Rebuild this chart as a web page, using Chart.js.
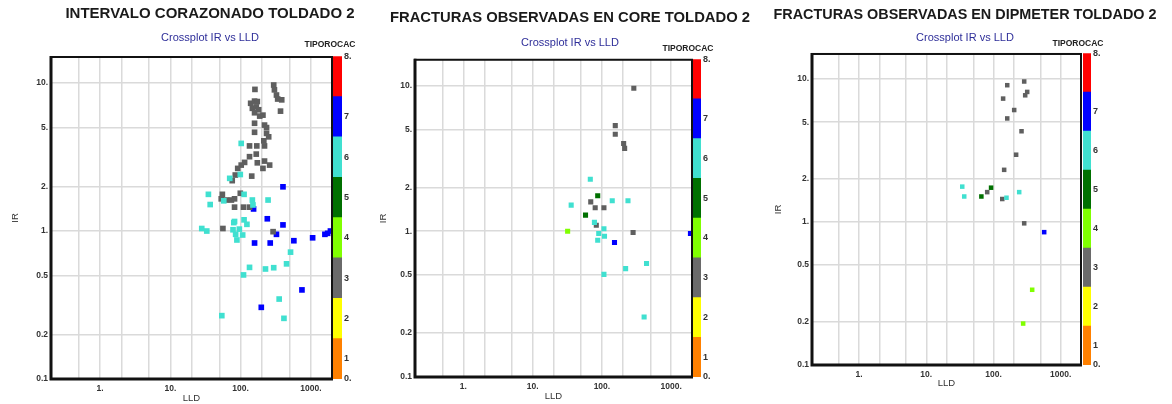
<!DOCTYPE html>
<html><head><meta charset="utf-8">
<script src="https://cdn.jsdelivr.net/npm/chart.js@4.4.1/dist/chart.umd.min.js"></script>
<style>
html,body{margin:0;padding:0;background:#fff;}
#wrap{position:relative;width:1172px;height:404px;overflow:hidden;background:#fff;}
canvas{position:absolute;top:0;}
</style></head><body><div id="wrap">
<canvas id="m1" width="420" height="404" style="left:0px"></canvas>
<canvas id="m2" width="390" height="404" style="left:375px"></canvas>
<canvas id="m3" width="400" height="404" style="left:765px"></canvas>
<canvas id="c1" width="80" height="404" style="left:290px"></canvas>
<canvas id="c2" width="80" height="404" style="left:648px"></canvas>
<canvas id="c3" width="80" height="404" style="left:1038px"></canvas>
</div>
<script>
// ---------- tick labels ----------
const xTickValues = [0.5, 1, 2, 5, 10, 20, 50, 100, 200, 500, 1000];
const xTickLabels = ['', '1.', '', '', '10.', '', '', '100.', '', '', '1000.'];
const yTickValues = [0.1, 0.2, 0.5, 1, 2, 5, 10];
const yTickLabels = ['0.1', '0.2', '0.5', '1.', '2.', '5.', '10.'];

// ---------- colour bar (TIPOROCAC) ----------
const rockTypes = [1, 2, 3, 4, 5, 6, 7, 8];
const rockSpan = [1, 1, 1, 1, 1, 1, 1, 1];
const barTickValues = [0, 0.5, 1.5, 2.5, 3.5, 4.5, 5.5, 6.5, 8];
const barTickLabels = ['0.', '1', '2', '3', '4', '5', '6', '7', '8.'];

// ---------- panel titles ----------
const panelTitles = ['INTERVALO CORAZONADO TOLDADO 2', 'FRACTURAS OBSERVADAS EN CORE TOLDADO 2', 'FRACTURAS OBSERVADAS EN DIPMETER TOLDADO 2'];

// ---------- data [LLD, IR] by TIPOROCAC ----------
// Panel 1: Intervalo corazonado
const p1Type3 = [[296,9.7],[303,9.0],[324,8.3],[337,7.8],[385,7.7],[370,6.46],[160,9.06],[139,7.3],[158,7.55],[173,7.5],[147,6.75],[167,6.9],[181,6.6],[158,6.3],[208,6.07],[187,5.98],[158,5.35],[219,5.2],[234,5.0],[158,4.65],[234,4.57],[251,4.33],[214,4.07],[219,3.76],[134,3.76],[170,3.76],[167,3.31],[134,3.18],[114,2.91],[102,2.79],[173,2.89],[219,2.97],[259,2.79],[208,2.65],[91,2.65],[84,2.39],[144,2.35],[76,2.19],[55,1.77],[53,1.65],[63,1.62],[74,1.62],[82,1.65],[99,1.80],[82,1.45],[110,1.45],[134,1.45],[56,1.04],[290,0.99]];
const p1Type6 = [[102,3.91],[70,2.27],[99,2.41],[34.8,1.77],[36.9,1.51],[57.6,1.6],[112,1.77],[147,1.62],[150,1.50],[246,1.62],[80,1.14],[112,1.19],[123,1.11],[82,1.16],[78,1.02],[96,1.03],[85,0.95],[107,0.94],[88.6,0.87],[28,1.04],[33,1.0],[514,0.72],[110,0.505],[134,0.568],[226,0.554],[296,0.565],[451,0.6],[354,0.347],[414,0.257],[54,0.268]];
const p1Type7 = [[401,1.99],[153,1.41],[240,1.21],[401,1.10],[324,0.95],[158,0.83],[264,0.83],[573,0.86],[1060,0.90],[1585,0.95],[1735,0.965],[1900,1.0],[197,0.305],[747,0.40]];
// Panel 2: Fracturas observadas en core
const p2Type3 = [[289,9.57],[156,5.3],[156,4.62],[206,4.0],[213,3.7],[69,1.59],[80,1.45],[107,1.45],[83,1.10],[282,0.98]];
const p2Type4 = [[32,1.0]];
const p2Type5 = [[87,1.75],[58,1.29]];
const p2Type6 = [[68,2.27],[36,1.51],[141,1.62],[238,1.62],[78,1.15],[107,1.04],[90,0.964],[109,0.924],[87,0.867],[107,0.506],[220,0.554],[441,0.6],[407,0.258]];
const p2Type7 = [[152,0.836],[1900,0.964]];
// Panel 3: Fracturas observadas en dipmeter
const p3Type3 = [[286,9.63],[160,9.07],[317,8.14],[296,7.71],[139,7.31],[203,6.08],[160,5.31],[261,4.32],[217,2.96],[144,2.32],[80.6,1.62],[135,1.45],[286,0.98]];
const p3Type4 = [[376,0.336],[276,0.195]];
const p3Type5 = [[92,1.74],[66,1.51]];
const p3Type6 = [[34.3,1.77],[36.7,1.51],[156,1.48],[241,1.62]];
const p3Type7 = [[567,0.85]];

// ---------- styles ----------
const rockColors = ['#ff8000', '#ffff00', '#6a6a6a', '#80ff00', '#007000', '#40e0d0', '#0000ff', '#ff0000'];
const pointColors = {3: '#5f5f5f', 4: '#80ff00', 5: '#007000', 6: '#40e0d0', 7: '#0000ff'};
const SANS = "'Liberation Sans', Arial, Helvetica, sans-serif";
Chart.defaults.font.family = SANS;

const framePlugin = {
  id: 'frame',
  afterDatasetsDraw(chart) {
    const {ctx, chartArea: a} = chart;
    ctx.save();
    ctx.strokeStyle = '#111';
    ctx.lineWidth = 2;
    ctx.strokeRect(a.left, a.top, a.right - a.left, a.bottom - a.top);
    ctx.lineWidth = 3;
    ctx.beginPath();
    ctx.moveTo(a.left, a.top - 1);
    ctx.lineTo(a.left, a.bottom);
    ctx.lineTo(a.right + 1, a.bottom);
    ctx.stroke();
    ctx.restore();
  }
};

function series(type, arr, r) {
  return {
    label: 'TIPOROCAC ' + type,
    data: arr.map(p => ({x: p[0], y: p[1]})),
    pointStyle: 'rect', pointRadius: r, pointHoverRadius: r,
    backgroundColor: pointColors[type], borderColor: pointColors[type], borderWidth: 0,
    clip: 0
  };
}

function mainChart(id, c) {
  return new Chart(document.getElementById(id), {
    type: 'scatter',
    data: {datasets: c.series},
    options: {
      responsive: false, animation: false, events: [],
      layout: {padding: 0},
      plugins: {
        legend: {display: false}, tooltip: {enabled: false},
        title: {display: true, text: c.title, color: '#1a1a1a', font: {size: c.titleSize, weight: 'bold'}, padding: {top: c.tTop, bottom: c.tBot}},
        subtitle: {display: true, text: 'Crossplot IR vs LLD', color: '#2e2e99', font: {size: 11}, padding: {top: c.sTop, bottom: c.sBot}}
      },
      scales: {
        x: {
          type: 'logarithmic', position: 'bottom', min: 0.2, max: 2000,
          afterBuildTicks: s => { s.ticks = xTickValues.map(v => ({value: v})); },
          afterFit: s => { s.height = c.xH; },
          grid: {color: '#dadada', lineWidth: 1.5, drawTicks: false},
          border: {display: false},
          ticks: {callback: (v, i) => xTickLabels[i], color: '#333', font: {size: 8.5, weight: 'bold'}, padding: 4.5, maxRotation: 0, autoSkip: false},
          title: {display: true, text: 'LLD', color: '#333', font: {size: 9.5}, padding: {top: 0, bottom: c.xtPad}}
        },
        y: {
          type: 'logarithmic', position: 'left', min: 0.1, max: 15,
          afterBuildTicks: s => { s.ticks = yTickValues.map(v => ({value: v})); },
          afterFit: s => { s.width = c.yW; },
          grid: {color: '#dadada', lineWidth: 1.5, drawTicks: false},
          border: {display: false},
          ticks: {callback: (v, i) => yTickLabels[i], color: '#333', font: {size: 8.5, weight: 'bold'}, padding: 3, autoSkip: false},
          title: {display: true, text: 'IR', color: '#333', font: {size: 9.5}, padding: {top: c.ytPad, bottom: 0}}
        },
        yR: {
          type: 'linear', position: 'right', display: true,
          grid: {display: false, drawTicks: false}, ticks: {display: false}, border: {display: false},
          afterFit: s => { s.width = c.rW; }
        }
      }
    },
    plugins: [framePlugin]
  });
}

function colorBar(id, c) {
  return new Chart(document.getElementById(id), {
    type: 'bar',
    data: {
      labels: ['TIPOROCAC'],
      datasets: rockTypes.map((t, i) => ({label: String(t), data: [rockSpan[i]], backgroundColor: rockColors[i], borderWidth: 0, barPercentage: 1, categoryPercentage: 1}))
    },
    options: {
      responsive: false, animation: false, events: [],
      layout: {padding: {bottom: c.padB}},
      plugins: {
        legend: {display: false}, tooltip: {enabled: false},
        title: {display: true, text: 'TIPOROCAC', color: '#222', font: {size: 8.5, weight: 'bold'}, padding: {top: c.tTop, bottom: c.tBot}}
      },
      scales: {
        x: {display: false, stacked: true},
        y: {
          stacked: true, position: 'right', min: 0, max: 8,
          grid: {display: false, drawTicks: false}, border: {display: false},
          afterBuildTicks: s => { s.ticks = barTickValues.map(v => ({value: v})); },
          ticks: {callback: (v, i) => barTickLabels[i], padding: 2, color: '#333', font: {size: 9, weight: 'bold'}, autoSkip: false},
          afterFit: s => { s.width = c.rW; }
        },
        yL: {
          type: 'linear', position: 'left', display: true,
          grid: {display: false, drawTicks: false}, ticks: {display: false}, border: {display: false},
          afterFit: s => { s.width = c.lW; }
        }
      }
    }
  });
}

mainChart('m1', {
  title: panelTitles[0], titleSize: 15, tTop: 5, tBot: 4, sTop: 4.4, sBot: 12.4,
  yW: 51, rW: 88, xH: 25, xtPad: 0, ytPad: 9.3,
  series: [series(6, p1Type6, 4), series(3, p1Type3, 4), series(7, p1Type7, 4)]
});
mainChart('m2', {
  title: panelTitles[1], titleSize: 14.8, tTop: 9, tBot: 4.7, sTop: 4.7, sBot: 10.4,
  yW: 40, rW: 73, xH: 27, xtPad: 2.3, ytPad: 2.3,
  series: [series(6, p2Type6, 3.6), series(3, p2Type3, 3.6), series(4, p2Type4, 3.6), series(5, p2Type5, 3.6), series(7, p2Type7, 3.6)]
});
mainChart('m3', {
  title: panelTitles[2], titleSize: 14.4, tTop: 6.4, tBot: 3.7, sTop: 3.7, sBot: 9.7,
  yW: 47, rW: 84, xH: 39, xtPad: 15.3, ytPad: 7.3,
  series: [series(6, p3Type6, 3.2), series(3, p3Type3, 3.2), series(4, p3Type4, 3.2), series(5, p3Type5, 3.2), series(7, p3Type7, 3.2)]
});
colorBar('c1', {tTop: 40, tBot: 6, padB: 25, lW: 43, rW: 28});
colorBar('c2', {tTop: 44, tBot: 5, padB: 27, lW: 45, rW: 27});
colorBar('c3', {tTop: 39, tBot: 4, padB: 39, lW: 45, rW: 27});
</script>
</body></html>
